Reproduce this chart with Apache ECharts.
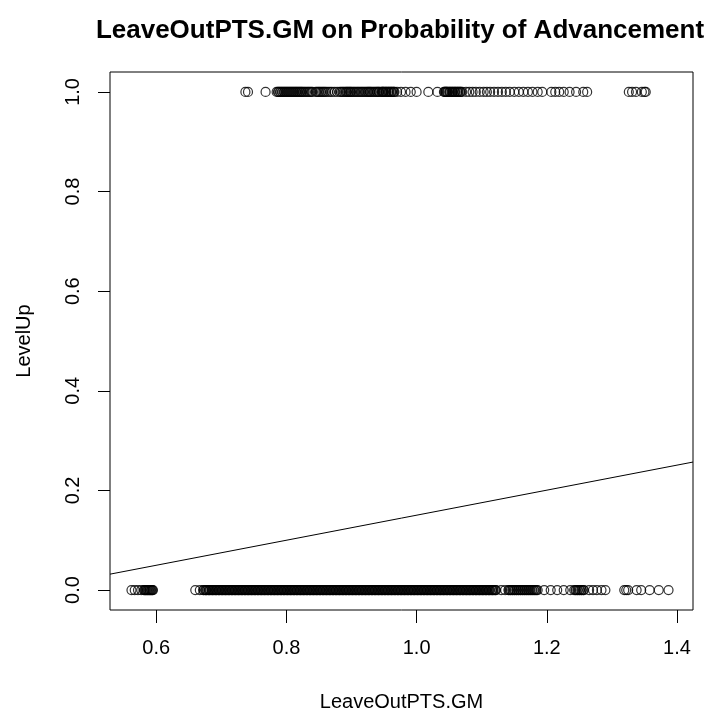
<!DOCTYPE html>
<html>
<head>
<meta charset="utf-8">
<script src="https://cdn.jsdelivr.net/npm/echarts@6/dist/echarts.min.js"></script>
<style>
  html, body { margin: 0; padding: 0; background: #fff; }
  #chart { width: 709px; height: 717px; }
</style>
</head>
<body>
<div id="chart"></div>
<script>
// LeaveOutPTS.GM values for players who advanced (LevelUp = 1)
var advancedX = [0.737, 0.741, 0.768,
    0.785, 0.787, 0.788, 0.790, 0.791, 0.793, 0.794, 0.796, 0.797, 0.799, 0.800, 0.802, 0.803, 0.805,
    0.806, 0.808, 0.809, 0.811, 0.812, 0.814, 0.815, 0.817, 0.818, 0.820, 0.821, 0.823, 0.824, 0.826,
    0.828, 0.830, 0.832, 0.834, 0.836, 0.838, 0.840, 0.845, 0.847, 0.849, 0.851, 0.853, 0.855, 0.857,
    0.859, 0.861, 0.864, 0.867, 0.870, 0.874, 0.878,
    0.882, 0.884, 0.886, 0.888, 0.890, 0.892, 0.893, 0.895, 0.896, 0.898, 0.899, 0.901, 0.903, 0.905,
    0.907, 0.909, 0.911, 0.913, 0.915, 0.917, 0.919, 0.921, 0.923, 0.925, 0.926, 0.928, 0.929, 0.931,
    0.933, 0.935, 0.937, 0.939, 0.940, 0.942, 0.943,
    0.946, 0.947, 0.948, 0.949, 0.950, 0.952, 0.953, 0.954, 0.956, 0.957, 0.958, 0.960, 0.961, 0.962,
    0.964, 0.965, 0.966,
    0.970, 0.976, 0.983, 0.991, 1.000,
    1.018, 1.032,
    1.042, 1.043, 1.044, 1.045, 1.046, 1.047, 1.048, 1.050, 1.051, 1.052, 1.054, 1.055, 1.056, 1.058,
    1.059, 1.060, 1.062, 1.063, 1.064, 1.066, 1.067, 1.068, 1.070,
    1.076, 1.081, 1.086, 1.091, 1.097, 1.103, 1.108, 1.113, 1.119, 1.125, 1.131, 1.137, 1.143, 1.150,
    1.157, 1.164, 1.171, 1.178, 1.186, 1.193,
    1.207, 1.213, 1.219, 1.226, 1.235, 1.245, 1.256, 1.262,
    1.326, 1.331, 1.337, 1.346, 1.350, 1.352];

// LeaveOutPTS.GM values for players who did not advance (LevelUp = 0)
var stayedX = [0.562, 0.567, 0.572, 0.577, 0.581, 0.582, 0.583, 0.584, 0.585, 0.586, 0.587, 0.588,
    0.589, 0.590, 0.591, 0.592, 0.593, 0.594, 0.595,
    0.660, 0.667,
    0.672, 0.673, 0.675, 0.676, 0.677, 0.678,
    0.680, 0.681, 0.682, 0.683, 0.685, 0.686, 0.687, 0.688,
    0.690, 0.691, 0.692, 0.693, 0.695, 0.696, 0.697, 0.698,
    0.700, 0.701, 0.702, 0.703, 0.705, 0.706, 0.707, 0.708,
    0.710, 0.711, 0.712, 0.713, 0.715, 0.716, 0.717, 0.718,
    0.720, 0.721, 0.722, 0.723, 0.725, 0.726, 0.727, 0.728,
    0.730, 0.731, 0.732, 0.733, 0.735, 0.736, 0.737, 0.738,
    0.740, 0.741, 0.742, 0.743, 0.745, 0.746, 0.747, 0.748,
    0.750, 0.751, 0.752, 0.753, 0.755, 0.756, 0.757, 0.758,
    0.760, 0.761, 0.762, 0.763, 0.765, 0.766, 0.767, 0.768,
    0.770, 0.771, 0.772, 0.773, 0.775, 0.776, 0.777, 0.778,
    0.780, 0.781, 0.782, 0.783, 0.785, 0.786, 0.787, 0.788,
    0.790, 0.791, 0.792, 0.793, 0.795, 0.796, 0.797, 0.798,
    0.800, 0.801, 0.802, 0.803, 0.805, 0.806, 0.807, 0.808,
    0.810, 0.811, 0.812, 0.813, 0.815, 0.816, 0.817, 0.818,
    0.820, 0.821, 0.822, 0.823, 0.825, 0.826, 0.827, 0.828,
    0.830, 0.831, 0.832, 0.833, 0.835, 0.836, 0.837, 0.838,
    0.840, 0.841, 0.842, 0.843, 0.845, 0.846, 0.847, 0.848,
    0.850, 0.851, 0.852, 0.853, 0.855, 0.856, 0.857, 0.858,
    0.860, 0.861, 0.862, 0.863, 0.865, 0.866, 0.867, 0.868,
    0.870, 0.871, 0.872, 0.873, 0.875, 0.876, 0.877, 0.878,
    0.880, 0.881, 0.882, 0.883, 0.885, 0.886, 0.887, 0.888,
    0.890, 0.891, 0.892, 0.893, 0.895, 0.896, 0.897, 0.898,
    0.900, 0.901, 0.902, 0.903, 0.905, 0.906, 0.907, 0.908,
    0.910, 0.911, 0.912, 0.913, 0.915, 0.916, 0.917, 0.918,
    0.920, 0.921, 0.922, 0.923, 0.925, 0.926, 0.927, 0.928,
    0.930, 0.931, 0.932, 0.933, 0.935, 0.936, 0.937, 0.938,
    0.940, 0.941, 0.942, 0.943, 0.945, 0.946, 0.947, 0.948,
    0.950, 0.951, 0.952, 0.953, 0.955, 0.956, 0.957, 0.958,
    0.960, 0.961, 0.962, 0.963, 0.965, 0.966, 0.967, 0.968,
    0.970, 0.971, 0.972, 0.973, 0.975, 0.976, 0.977, 0.978,
    0.980, 0.981, 0.982, 0.983, 0.985, 0.986, 0.987, 0.988,
    0.990, 0.991, 0.992, 0.993, 0.995, 0.996, 0.997, 0.998,
    1.000, 1.001, 1.002, 1.003, 1.005, 1.006, 1.007, 1.008,
    1.010, 1.011, 1.012, 1.013, 1.015, 1.016, 1.017, 1.018,
    1.020, 1.021, 1.022, 1.023, 1.025, 1.026, 1.027, 1.028,
    1.030, 1.031, 1.032, 1.033, 1.035, 1.036, 1.037, 1.038,
    1.040, 1.041, 1.042, 1.043, 1.045, 1.046, 1.047, 1.048,
    1.050, 1.051, 1.052, 1.053, 1.055, 1.056, 1.057, 1.058,
    1.060, 1.061, 1.062, 1.063, 1.065, 1.066, 1.067, 1.068,
    1.070, 1.071, 1.072, 1.073, 1.075, 1.076, 1.077, 1.078,
    1.080, 1.081, 1.082, 1.083, 1.085, 1.086, 1.087, 1.088,
    1.090, 1.091, 1.092, 1.093, 1.095, 1.096, 1.097, 1.098,
    1.100, 1.101, 1.102, 1.103, 1.105, 1.106, 1.107, 1.108,
    1.110, 1.111, 1.112, 1.113, 1.115, 1.116, 1.117, 1.118,
    1.120, 1.121, 1.122,
    1.130, 1.136,
    1.141, 1.142, 1.144, 1.145, 1.147, 1.148, 1.150, 1.151, 1.153, 1.154, 1.156, 1.157, 1.159, 1.160,
    1.162, 1.163, 1.165, 1.166, 1.168, 1.169, 1.171, 1.172, 1.174, 1.175, 1.177, 1.178, 1.180, 1.181,
    1.183, 1.184, 1.186,
    1.196, 1.206, 1.216, 1.226, 1.236,
    1.242, 1.244, 1.245, 1.247, 1.248, 1.250, 1.251, 1.253, 1.254, 1.256, 1.257,
    1.265, 1.271, 1.277, 1.284, 1.290,
    1.319, 1.322, 1.325, 1.338, 1.345, 1.358, 1.372, 1.387];

// fitted line (abline)
var lineIntercept = -0.101;
var lineSlope = 0.2513;

var xTicks = [0.6, 0.8, 1.0, 1.2, 1.4];
var yTicks = [0.0, 0.2, 0.4, 0.6, 0.8, 1.0];
var xLimits = [0.529, 1.4246];
var yLimits = [-0.04, 1.04];

var chart = echarts.init(document.getElementById('chart'));
var font = 'Liberation Sans, Arial, sans-serif';

var pts = [];
advancedX.forEach(function(x){ pts.push([x, 1]); });
stayedX.forEach(function(x){ pts.push([x, 0]); });

// two ends of the abline at the plot edges
var fitLine = xLimits.map(function(x){ return [x, lineIntercept + lineSlope * x]; });

var option = {
    animation: false,
    title: {
        text: 'LeaveOutPTS.GM on Probability of Advancement',
        left: 395, top: 13, textAlign: 'center',
        textStyle: { fontFamily: font, fontSize: 26, fontWeight: 'bold', color: '#000' }
    },
    grid: { left: 110, right: 16, top: 72, bottom: 103, show: true, borderColor: '#000', borderWidth: 1 },
    xAxis: {
        type: 'value', min: xLimits[0], max: xLimits[1],
        name: 'LeaveOutPTS.GM', nameLocation: 'middle', nameGap: 82,
        nameTextStyle: { fontFamily: font, fontSize: 20, color: '#000' },
        axisLine: { show: false, onZero: false },
        splitLine: { show: false },
        axisTick: { show: true, length: 13, customValues: xTicks, lineStyle: { color: '#000' } },
        axisLabel: { customValues: xTicks, margin: 28, fontFamily: font, fontSize: 20, color: '#000',
            formatter: function(v){ return v.toFixed(1); } }
    },
    yAxis: {
        type: 'value', min: yLimits[0], max: yLimits[1],
        name: 'LevelUp', nameLocation: 'middle', nameGap: 76, nameRotate: 90,
        nameTextStyle: { fontFamily: font, fontSize: 20, color: '#000' },
        axisLine: { show: false, onZero: false },
        splitLine: { show: false },
        axisTick: { show: true, length: 12, customValues: yTicks, lineStyle: { color: '#000' } },
        axisLabel: { customValues: yTicks, rotate: 90, margin: 27, fontFamily: font, fontSize: 20, color: '#000',
            formatter: function(v){ return v.toFixed(1); } }
    },
    series: [
        {
            type: 'scatter', data: pts, symbol: 'circle', symbolSize: 9,
            itemStyle: { color: 'rgba(0,0,0,0)', borderColor: '#000', borderWidth: 1.2 },
            silent: true
        },
        {
            type: 'line', data: fitLine, symbol: 'none',
            lineStyle: { color: '#000', width: 1 }, silent: true
        }
    ]
};
chart.setOption(option);
</script>
</body>
</html>
